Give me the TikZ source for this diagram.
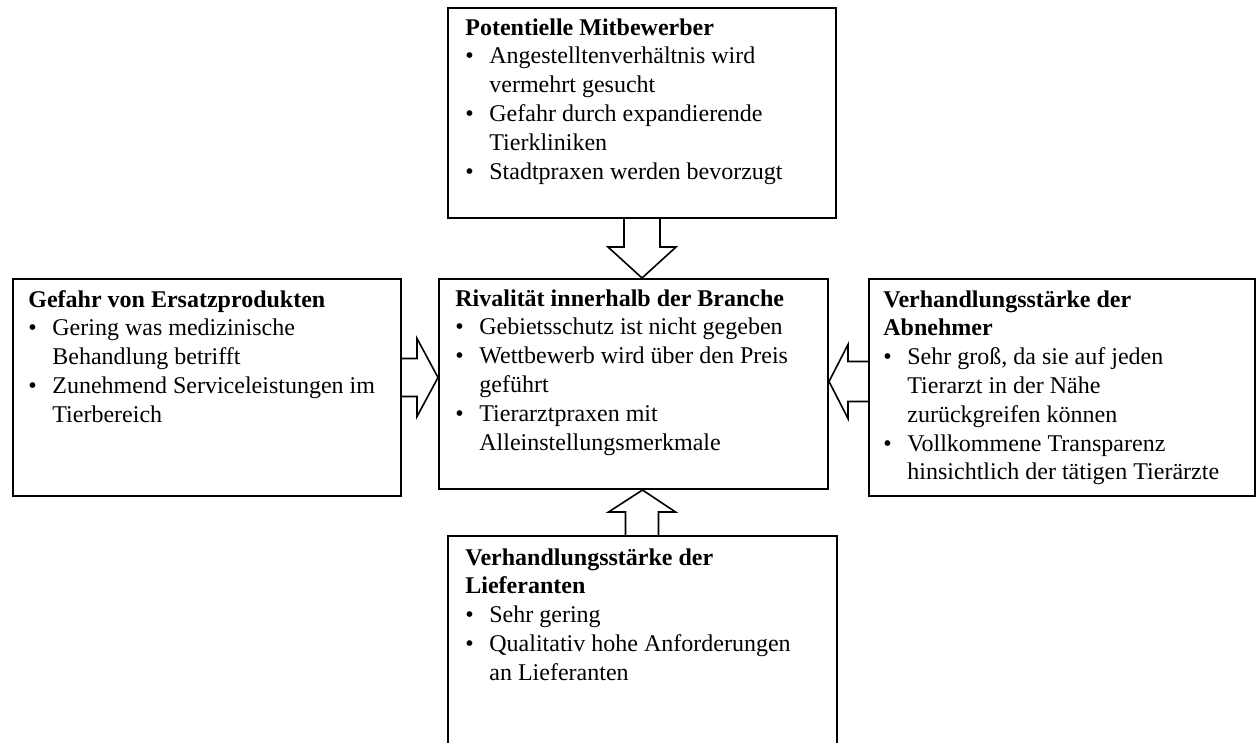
\documentclass[tikz,border=0pt]{standalone}
\usepackage{fontspec}
\setmainfont{Liberation Serif}
\usetikzlibrary{calc}
\tikzset{
  frc/.style={draw,line width=1bp,anchor=north west,inner sep=0pt},
  txt/.style={anchor=base west,inner sep=0pt,font=\fontsize{12bp}{14.4bp}\selectfont},
  blk/.style={draw,line width=0.8bp,line join=miter},
}
\newcommand{\pkt}[1]{\par\hangindent=12bp\hangafter=1\noindent\makebox[12bp][l]{\textbullet}#1}

\begin{document}
\begin{tikzpicture}[x=0.5bp,y=-0.5bp]
  \useasboundingbox (0,0) rectangle (1256,742);
  \clip (0,0) rectangle (1256,742);
  % the five forces
  \node[frc,minimum width=194bp,minimum height=105bp] (mitb) at (447,7) {};
  \node[frc,minimum width=194.5bp,minimum height=105bp] (riv) at (438,278) {};
  \node[frc,minimum width=194bp,minimum height=108.5bp] (ersatz) at (12,278) {};
  \node[frc,minimum width=193bp,minimum height=108.5bp] (abn) at (868,278) {};
  \node[frc,minimum width=194.5bp,minimum height=130bp] (lief) at (447,535) {};
  % texts
  \node[txt] (mitbT) at ($(mitb.north west)+(18,28)$) {\parbox[t]{185bp}{\textbf{Potentielle Mitbewerber}
    \pkt{Angestelltenverhältnis wird\\vermehrt gesucht}
    \pkt{Gefahr durch expandierende\\Tierkliniken}
    \pkt{Stadtpraxen werden bevorzugt}}};
  \node[txt] (rivT) at ($(riv.north west)+(17,28)$) {\parbox[t]{185bp}{\textbf{Rivalität innerhalb der Branche}
    \pkt{Gebietsschutz ist nicht gegeben}
    \pkt{Wettbewerb wird über den Preis\\geführt}
    \pkt{Tierarztpraxen mit\\Alleinstellungsmerkmale}}};
  \node[txt] (ersatzT) at ($(ersatz.north west)+(16,29)$) {\parbox[t]{185bp}{\textbf{Gefahr von Ersatzprodukten}
    \pkt{Gering was medizinische\\Behandlung betrifft}
    \pkt{Zunehmend Serviceleistungen im\\Tierbereich}}};
  \node[txt] (abnT) at ($(abn.north west)+(15,29)$) {\parbox[t]{185bp}{\textbf{Verhandlungsstärke der\\Abnehmer}
    \pkt{Sehr groß, da sie auf jeden\\Tierarzt in der Nähe\\zurückgreifen können}
    \pkt{Vollkommene Transparenz\\hinsichtlich der tätigen Tierärzte}}};
  \node[txt] (liefT) at ($(lief.north west)+(18,30)$) {\parbox[t]{185bp}{\textbf{Verhandlungsstärke der\\Lieferanten}
    \pkt{Sehr gering}
    \pkt{Qualitativ hohe Anforderungen\\an Lieferanten}}};
  % block arrows
  \draw[blk] ($(mitb.south)+(-18,0)$) -- ++(0,28) -- ++(-16,0) -- (mitb.south |- riv.north)
    -- ($(mitb.south)+(34,28)$) -- ++(-16,0) -- ++(0,-28);
  \draw[blk] ($(lief.north)+(-17,0)$) -- ++(0,-23) -- ++(-17,0) -- (lief.north |- riv.south)
    -- ($(lief.north)+(33,-23)$) -- ++(-17,0) -- ++(0,23);
  \coordinate (eA) at ($(ersatz.east)+(0,-10)$);
  \draw[blk] ($(eA)+(0,-19)$) -- ++(15,0) -- ++(0,-20) -- (eA -| riv.west)
    -- ($(eA)+(15,39)$) -- ++(0,-20) -- ++(-15,0);
  \coordinate (aA) at ($(abn.west)+(0,-6)$);
  \draw[blk] ($(aA)+(0,-20)$) -- ++(-20,0) -- ++(0,-17) -- (aA -| riv.east)
    -- ($(aA)+(-20,37)$) -- ++(0,-17) -- ++(20,0);
\end{tikzpicture}
\end{document}
